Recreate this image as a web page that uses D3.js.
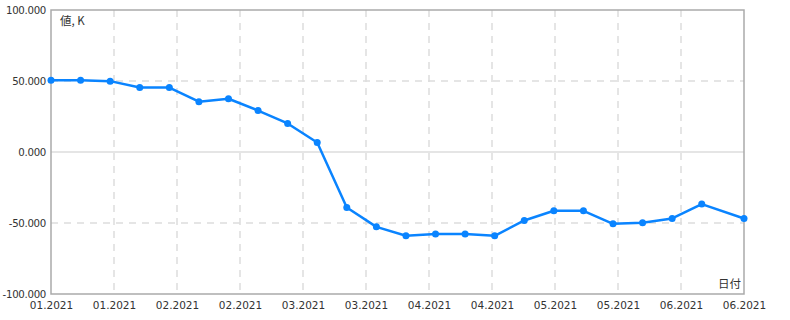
<!DOCTYPE html>
<html>
<head>
<meta charset="utf-8">
<script src="https://cdn.jsdelivr.net/npm/d3@7"></script>
<style>
  body { margin: 0; background: #fff; }
  text { font-family: "DejaVu Sans", sans-serif; font-size: 10.5px; fill: #333; }
  .y-axis text { font-size: 10.2px; letter-spacing: -0.3px; }
  .title { font-family: "Noto Sans CJK JP", "DejaVu Sans", sans-serif; font-size: 11.5px; }
</style>
</head>
<body>
<div id="chart"></div>
<script>
// point dates (weekly, last one shorter step)
const dates = ['2021-01-04', '2021-01-11', '2021-01-18', '2021-01-25', '2021-02-01', '2021-02-08',
    '2021-02-15', '2021-02-22', '2021-03-01', '2021-03-08', '2021-03-15', '2021-03-22',
    '2021-03-29', '2021-04-05', '2021-04-12', '2021-04-19', '2021-04-26', '2021-05-03',
    '2021-05-10', '2021-05-17', '2021-05-24', '2021-05-31', '2021-06-07', '2021-06-17'];
const values = [50.6, 50.6, 49.9, 45.4, 45.4, 35.4, 37.5, 29.2, 20.1, 6.7, -39.1, -52.7,
    -59.0, -57.8, -57.8, -59.0, -48.2, -41.4, -41.4, -50.6, -49.9, -46.8, -36.7, -46.8];
const yTicks = [-100, -50, 0, 50, 100];
const xStart = '2021-01-04';
const xEnd = '2021-06-17';
const xTickCount = 12;
const yTitle = '値, K';
const xTitle = '日付';

const parse = d3.timeParse('%Y-%m-%d');
const data = dates.map((d, i) => ({ date: parse(d), value: values[i] }));

const width = 790, height = 320;
const margin = { top: 10, right: 46, bottom: 26, left: 51 };
const w = width - margin.left - margin.right;
const h = height - margin.top - margin.bottom;

const svg = d3.select('#chart')
    .append('svg')
    .attr('width', width)
    .attr('height', height)
    .append('g')
    .attr('transform', `translate(${margin.left},${margin.top})`);

const x = d3.scaleTime()
    .domain([parse(xStart), parse(xEnd)])
    .range([0, w]);

const y = d3.scaleLinear()
    .domain([-100, 100])
    .range([h, 0]);

// evenly spaced date ticks
const t0 = +parse(xStart), t1 = +parse(xEnd);
const xTickVals = d3.range(xTickCount).map(i => new Date(t0 + (t1 - t0) * i / (xTickCount - 1)));

// vertical grid (dashed)
svg.append('g')
    .selectAll('line')
    .data(xTickVals.slice(1, -1))
    .join('line')
    .attr('x1', d => x(d)).attr('x2', d => x(d))
    .attr('y1', 0).attr('y2', h)
    .attr('stroke', '#ddd')
    .attr('stroke-width', 1.5)
    .attr('stroke-dasharray', '7,6');

// horizontal grid: zero solid, others dashed
svg.append('g')
    .selectAll('line')
    .data(yTicks.slice(1, -1))
    .join('line')
    .attr('x1', 0).attr('x2', w)
    .attr('y1', d => y(d)).attr('y2', d => y(d))
    .attr('stroke', '#ddd')
    .attr('stroke-width', 1.5)
    .attr('stroke-dasharray', d => d === 0 ? null : '7,6');

// frame
svg.append('rect')
    .attr('width', w)
    .attr('height', h)
    .attr('fill', 'none')
    .attr('stroke', '#aaa')
    .attr('stroke-width', 1.5);

// Y axis (plain hyphen for minus)
const fmt = d3.format('.3f');
const yAxis = svg.append('g')
    .attr('class', 'y-axis')
    .call(d3.axisLeft(y).tickValues(yTicks).tickSize(0).tickPadding(5)
        .tickFormat(d => fmt(d).replace('\u2212', '-')));
yAxis.select('.domain').remove();

// X axis
const xAxis = svg.append('g')
    .attr('transform', `translate(0,${h})`)
    .call(d3.axisBottom(x).tickValues(xTickVals).tickSize(0).tickPadding(8)
        .tickFormat(d3.timeFormat('%m.%Y')));
xAxis.select('.domain').remove();

// line
const line = d3.line()
    .x(d => x(d.date))
    .y(d => y(d.value));

svg.append('path')
    .datum(data)
    .attr('fill', 'none')
    .attr('stroke', '#0a84ff')
    .attr('stroke-width', 2.5)
    .attr('stroke-linejoin', 'round')
    .attr('d', line);

svg.append('g')
    .selectAll('circle')
    .data(data)
    .join('circle')
    .attr('cx', d => x(d.date))
    .attr('cy', d => y(d.value))
    .attr('r', 3.5)
    .attr('fill', '#0a84ff');

// axis titles
svg.append('text')
    .attr('class', 'title')
    .attr('x', 9)
    .attr('y', 15)
    .text(yTitle);

svg.append('text')
    .attr('class', 'title')
    .attr('x', w - 3)
    .attr('y', h - 6)
    .attr('text-anchor', 'end')
    .text(xTitle);
</script>
</body>
</html>
